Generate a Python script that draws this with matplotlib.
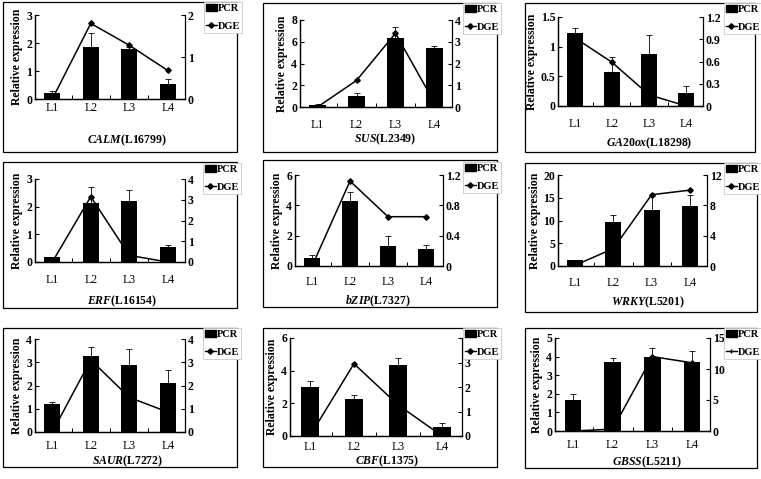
import numpy as np
import matplotlib
matplotlib.use("Agg")
import matplotlib.pyplot as plt
from matplotlib.patches import Rectangle, Patch
from matplotlib.lines import Line2D

plt.rcParams['font.family'] = ['Liberation Serif', 'DejaVu Serif']
plt.rcParams['mathtext.fontset'] = 'custom'
plt.rcParams['mathtext.it'] = 'Liberation Serif:italic:bold'
plt.rcParams['mathtext.rm'] = 'Liberation Serif:bold'

categories = ["L1", "L2", "L3", "L4"]

genes = ["CALM", "SUS", "GA20ox", "ERF", "bZIP", "WRKY", "SAUR", "CBF", "GBSS"]
gene_ids = ["L16799", "L2349", "L18298", "L16154", "L7327", "L5201", "L7272", "L1375", "L5211"]

pcr_calm = [0.2, 1.87, 1.78, 0.55]
pcr_sus = [0.2, 1.05, 6.35, 5.4]
pcr_ga20ox = [1.23, 0.57, 0.87, 0.22]
pcr_erf = [0.17, 2.12, 2.2, 0.55]
pcr_bzip = [0.5, 4.3, 1.3, 1.1]
pcr_wrky = [1.3, 9.6, 12.3, 13.2]
pcr_saur = [1.2, 3.25, 2.9, 2.1]
pcr_cbf = [3.0, 2.25, 4.35, 0.55]
pcr_gbss = [1.65, 3.7, 4.0, 3.7]

err_calm = [0.1, 0.5, 0.07, 0.15]
err_sus = [0.05, 0.25, 1.0, 0.2]
err_ga20ox = [0.08, 0.25, 0.33, 0.12]
err_erf = [0.0, 0.6, 0.4, 0.07]
err_bzip = [0.25, 0.6, 0.65, 0.3]
err_wrky = [0.1, 1.6, 3.0, 2.4]
err_saur = [0.1, 0.4, 0.65, 0.55]
err_cbf = [0.35, 0.25, 0.45, 0.25]
err_gbss = [0.35, 0.25, 0.45, 0.6]

dge_calm = [0.0, 1.8, 1.28, 0.68]
dge_sus = [0.0, 1.22, 3.39, 0.2]
dge_ga20ox = [0.92, 0.59, 0.15, 0.0]
dge_erf = [0.0, 3.15, 0.32, 0.0]
dge_bzip = [0.0, 1.12, 0.65, 0.65]
dge_wrky = [0.1, 2.3, 9.4, 10.0]
dge_saur = [0.0, 3.1, 1.49, 0.86]
dge_cbf = [0.0, 2.95, 1.27, 0.0]
dge_gbss = [0.0, 0.3, 12.0, 11.0]

left_ticks = [[0, 1, 2, 3], [0, 2, 4, 6, 8], [0, 0.5, 1, 1.5],
              [0, 1, 2, 3], [0, 2, 4, 6], [0, 5, 10, 15, 20],
              [0, 1, 2, 3, 4], [0, 2, 4, 6], [0, 1, 2, 3, 4, 5]]
left_labels = [["0", "1", "2", "3"], ["0", "2", "4", "6", "8"], ["0", "0.5", "1", "1.5"],
               ["0", "1", "2", "3"], ["0", "2", "4", "6"], ["0", "5", "10", "15", "20"],
               ["0", "1", "2", "3", "4"], ["0", "2", "4", "6"], ["0", "1", "2", "3", "4", "5"]]
right_ticks = [[0, 1, 2], [0, 1, 2, 3, 4], [0, 0.3, 0.6, 0.9, 1.2],
               [0, 1, 2, 3, 4], [0, 0.4, 0.8, 1.2], [0, 4, 8, 12],
               [0, 1, 2, 3, 4], [0, 1, 2, 3, 4], [0, 5, 10, 15]]
right_labels = [["0", "1", "2"], ["0", "1", "2", "3", "4"], ["0", "0.3", "0.6", "0.9", "1.2"],
                ["0", "1", "2", "3", "4"], ["0", "0.4", "0.8", "1.2"], ["0", "4", "8", "12"],
                ["0", "1", "2", "3", "4"], ["0", "1", "2", "3", ""], ["0", "5", "10", "15"]]

pcr_all = [pcr_calm, pcr_sus, pcr_ga20ox, pcr_erf, pcr_bzip, pcr_wrky, pcr_saur, pcr_cbf, pcr_gbss]
err_all = [err_calm, err_sus, err_ga20ox, err_erf, err_bzip, err_wrky, err_saur, err_cbf, err_gbss]
dge_all = [dge_calm, dge_sus, dge_ga20ox, dge_erf, dge_bzip, dge_wrky, dge_saur, dge_cbf, dge_gbss]

# layout in pixels (left, top, right, bottom)
W, H = 761, 479
axes_px = [(35, 15, 185, 99), (300, 20, 452, 107), (558, 17, 703, 106),
           (35, 179, 185, 262), (295, 175, 443, 266), (558, 175, 707, 266),
           (35, 339, 185, 432), (290, 338, 462, 436), (555, 338, 710, 431)]
frame_px = [(3, 2, 237, 152), (263, 3, 497, 152), (525, 3, 755, 152),
            (3, 162, 237, 308), (263, 160, 497, 307), (525, 163, 757, 312),
            (3, 328, 237, 467), (263, 328, 497, 467), (525, 328, 757, 468)]
legend_px = [(204, 2, 237, 39), (463, 3, 497, 38), (724, 3, 757, 38),
             (203, 163, 237, 197), (463, 162, 497, 197), (724, 163, 757, 195),
             (203, 328, 237, 365), (463, 328, 497, 365), (724, 328, 757, 365)]
gene_pos = [(127, 140), (385, 139), (649, 143),
            (122, 301), (378, 301), (648, 302),
            (127, 461), (387, 461), (647, 462)]
# distance in px from axis bottom to centre of the L1..L4 labels
cat_offset = [10, 19, 19, 19, 17, 18, 15, 12, 15]
FS = 8.5


def fig_rect(l, t, r, b):
    return [l / W, 1 - b / H, (r - l) / W, (b - t) / H]


fig = plt.figure(figsize=(W / 100, H / 100), dpi=100)
x = np.arange(len(categories))

for i in range(9):
    fl, ft, fr, fb = frame_px[i]
    fig.add_artist(Rectangle((fl / W, 1 - fb / H), (fr - fl) / W, (fb - ft) / H,
                             transform=fig.transFigure, fill=False,
                             edgecolor='black', linewidth=0.9))

    ax = fig.add_axes(fig_rect(*axes_px[i]))
    pcr = pcr_all[i]
    err = err_all[i]
    ax.bar(x, pcr, width=0.42, color='black', zorder=2)
    ax.errorbar(x, pcr, yerr=[np.zeros(4), err], fmt='none', ecolor='black',
                elinewidth=0.6, capsize=2, capthick=0.6, zorder=3)
    ax.set_xlim(-0.45, 3.45)
    ax.set_ylim(left_ticks[i][0], left_ticks[i][-1])
    ax.set_yticks(left_ticks[i])
    ax.set_yticklabels(left_labels[i], fontweight='bold', fontsize=FS)
    ax.set_xticks(x)
    ax.set_xticklabels(categories, fontsize=FS)
    ax.set_xticks(x[:-1] + 0.5, minor=True)
    ax.tick_params(axis='x', which='major', length=0,
                   pad=(cat_offset[i] - 0.56 * FS / 0.72) * 0.72)
    ax.tick_params(axis='x', which='minor', direction='in', length=3, width=0.7)
    ax.tick_params(axis='y', direction='in', length=3, width=0.8, pad=2)
    ax.spines['top'].set_visible(False)
    ax.spines['right'].set_visible(False)
    ax.set_ylabel("Relative expression", fontweight='bold', fontsize=8.5, labelpad=2)

    ax2 = ax.twinx()
    ax2.plot(x, dge_all[i], color='black', linewidth=1.1, marker='D',
             markersize=2.8, zorder=4)
    ax2.set_ylim(right_ticks[i][0], right_ticks[i][-1])
    ax2.set_yticks(right_ticks[i])
    ax2.set_yticklabels(right_labels[i], fontweight='bold', fontsize=FS)
    ax2.tick_params(axis='y', direction='in', length=3, width=0.8, pad=2)
    ax2.spines['top'].set_visible(False)
    for sp in ['left', 'right', 'bottom']:
        ax.spines[sp].set_linewidth(0.9)
        ax2.spines[sp].set_linewidth(0.9)

    gx, gy = gene_pos[i]
    fig.text(gx / W, 1 - gy / H, r"$\mathit{%s}$(%s)" % (genes[i], gene_ids[i]),
             ha='center', va='center', fontsize=8.5, fontweight='bold')

    ll, lt, lr, lb = legend_px[i]
    mk = 'D' if i < 8 else '+'
    handles = [Patch(facecolor='black', edgecolor='black'),
               Line2D([0], [0], color='black', linewidth=1.0, marker=mk, markersize=2.8)]
    leg = fig.legend(handles, ["PCR", "DGE"], loc='upper left',
                     bbox_to_anchor=(ll / W, 1 - lt / H), bbox_transform=fig.transFigure,
                     prop={'family': 'Liberation Serif', 'weight': 'bold', 'size': 7.5},
                     frameon=True, fancybox=False, edgecolor='#c8c8c8', framealpha=1,
                     handlelength=1.0, handletextpad=0.1, borderpad=0.2,
                     labelspacing=0.8, borderaxespad=0)
    leg.get_frame().set_linewidth(0.6)

fig.savefig("out.png", dpi=100)
